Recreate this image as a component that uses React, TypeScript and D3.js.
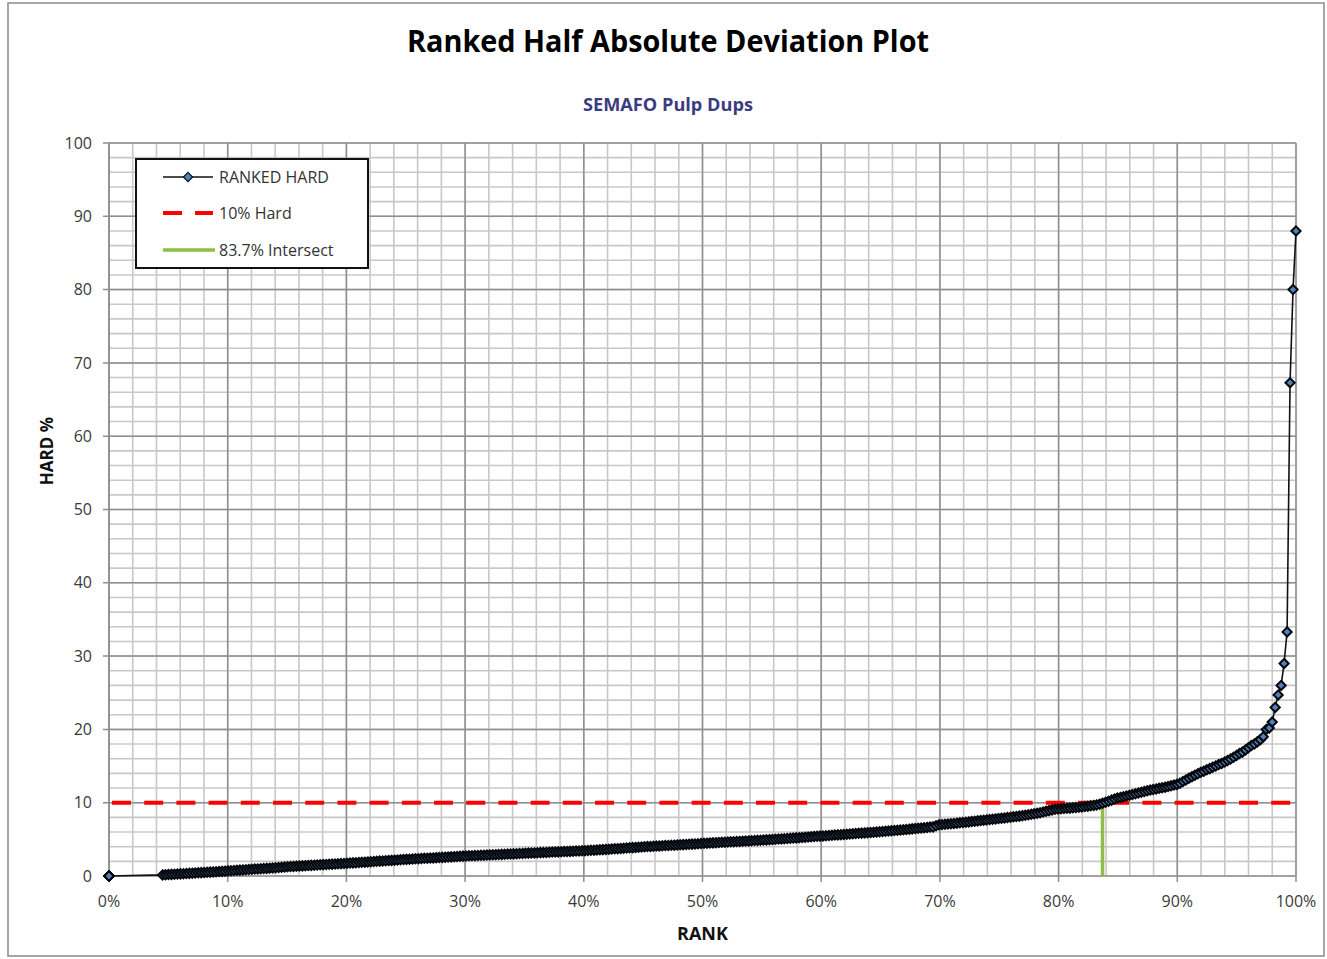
import React from 'react';
import * as d3 from 'd3';

const chartTitle = 'Ranked Half Absolute Deviation Plot';
const chartSubtitle = 'SEMAFO Pulp Dups';
const xTitle = 'RANK';
const yTitle = 'HARD %';
const legendLabels = ['RANKED HARD', '10% Hard', '83.7% Intersect'];

// number of pairs with zero half-absolute deviation (they all rank at 0%)
const zeroCount = 18;
// sorted non-zero HARD % values
const hardValues = [
  0.15, 0.17, 0.19, 0.22, 0.24, 0.27, 0.29, 0.31, 0.34, 0.36, 0.39, 0.41, 0.44, 0.46, 0.48, 0.51, 0.53, 0.56, 0.58, 0.61, 0.63, 0.66,
  0.7, 0.72, 0.75, 0.78, 0.8, 0.83, 0.86, 0.88, 0.91, 0.94, 0.96, 0.99, 1.02, 1.04, 1.07, 1.1, 1.13, 1.16, 1.19, 1.22,
  1.27, 1.29, 1.31, 1.34, 1.36, 1.38, 1.41, 1.43, 1.45, 1.48, 1.5, 1.52, 1.55, 1.57, 1.59, 1.62, 1.64, 1.66, 1.69, 1.71,
  1.74, 1.76, 1.79, 1.81, 1.84, 1.87, 1.89, 1.92, 1.95, 1.97, 2.0, 2.03, 2.05, 2.08, 2.1, 2.13, 2.16, 2.18, 2.21, 2.24,
  2.27, 2.29, 2.31, 2.34, 2.36, 2.38, 2.41, 2.43, 2.45, 2.47, 2.5, 2.52, 2.54, 2.57, 2.59, 2.61, 2.64, 2.66, 2.68, 2.71,
  2.73, 2.75, 2.77, 2.78, 2.8, 2.82, 2.84, 2.86, 2.88, 2.89, 2.91, 2.93, 2.95, 2.97, 2.99, 3.0, 3.02, 3.04, 3.06, 3.08,
  3.1, 3.12, 3.13, 3.15, 3.17, 3.19, 3.2, 3.22, 3.24, 3.26, 3.27, 3.29, 3.31, 3.33, 3.34, 3.36, 3.38, 3.4, 3.41, 3.43,
  3.45, 3.47, 3.5, 3.52, 3.55, 3.57, 3.6, 3.63, 3.65, 3.68, 3.71, 3.73, 3.76, 3.79, 3.81, 3.84, 3.87, 3.9, 3.93, 3.96,
  3.99, 4.01, 4.03, 4.06, 4.08, 4.1, 4.12, 4.15, 4.17, 4.19, 4.21, 4.24, 4.26, 4.28, 4.3, 4.33, 4.35, 4.37, 4.4, 4.43,
  4.46, 4.48, 4.5, 4.52, 4.55, 4.57, 4.59, 4.61, 4.64, 4.66, 4.68, 4.7, 4.72, 4.75, 4.77, 4.79, 4.81, 4.84, 4.86, 4.88,
  4.91, 4.93, 4.96, 4.98, 5.01, 5.04, 5.06, 5.09, 5.12, 5.15, 5.17, 5.2, 5.23, 5.26, 5.29, 5.32, 5.35, 5.38, 5.41, 5.44,
  5.46, 5.49, 5.52, 5.55, 5.58, 5.61, 5.64, 5.67, 5.7, 5.73, 5.76, 5.79, 5.82, 5.85, 5.88, 5.91, 5.94, 5.97, 6.0, 6.03,
  6.06, 6.09, 6.13, 6.16, 6.2, 6.24, 6.27, 6.31, 6.35, 6.39, 6.43, 6.47, 6.51, 6.55, 6.59, 6.63, 6.67, 6.7, 6.85, 6.98,
  7.02, 7.05, 7.09, 7.13, 7.17, 7.21, 7.25, 7.29, 7.34, 7.38, 7.43, 7.47, 7.52, 7.56, 7.61, 7.65, 7.7, 7.74, 7.79, 7.84,
  7.88, 7.92, 7.97, 8.02, 8.07, 8.12, 8.17, 8.23, 8.29, 8.35, 8.41, 8.48, 8.55, 8.63, 8.72, 8.82, 8.92, 9.02, 9.1, 9.14,
  9.17, 9.2, 9.23, 9.26, 9.3, 9.34, 9.38, 9.42, 9.47, 9.52, 9.57, 9.63, 9.7, 9.8, 9.92, 10.05, 10.2, 10.35, 10.5, 10.65,
  10.72, 10.82, 10.92, 11.02, 11.12, 11.22, 11.32, 11.42, 11.52, 11.62, 11.72, 11.8, 11.88, 11.96, 12.04, 12.12, 12.2, 12.3, 12.4, 12.5,
  12.65, 12.9, 13.1, 13.35, 13.55, 13.75, 13.95, 14.15, 14.3, 14.5, 14.65, 14.85, 15.0, 15.2, 15.35, 15.55, 15.75, 15.95, 16.2, 16.45,
  16.7, 16.9, 17.2, 17.5, 17.8, 18.0, 18.3, 18.6, 19.0, 20.0, 20.2, 21.0, 23.0, 24.7, 26.0, 29.0, 33.3, 67.3, 80.0, 88.0,
];
const hardLimit = 10;
const intersectRank = 0.837;

const W = 1327;
const H = 959;
const margin = { top: 143, right: 31, bottom: 83, left: 109 };

const FONT = '"Open Sans", "Noto Sans", sans-serif';
const BLUE = '#4f81bd';
const RED = '#ff0000';
const GREEN = '#8dbf45';

const diamond = 'M0,-4.6L4.6,0L0,4.6L-4.6,0Z';

export default function App() {
  const x = d3.scaleLinear().domain([0, 1]).range([margin.left, W - margin.right]);
  const y = d3.scaleLinear().domain([0, 100]).range([H - margin.bottom, margin.top]);

  // percent rank, ties at zero share the lowest rank
  const n = zeroCount + hardValues.length;
  const points = [
    ...d3.range(zeroCount).map(() => ({ rank: 0, v: 0 })),
    ...hardValues.map((v, i) => ({ rank: (zeroCount + i) / (n - 1), v })),
  ];

  const line = d3
    .line<any>()
    .x((d) => x(d.rank))
    .y((d) => y(d.v));

  const xMinor = x.ticks(50);
  const yMinor = y.ticks(50);
  const xMajor = x.ticks(10);
  const yMajor = y.ticks(10);
  const pct = d3.format('.0%');

  const [x0, x1] = x.range();
  const [y0, y1] = y.range();

  const lg = { x: 136, y: 159, w: 232, h: 109 };
  const lgRows = [177, 213, 250];

  return (
    <svg
      width={W}
      height={H}
      style={{ position: 'absolute', left: 0, top: 0, background: '#fff' }}
    >
      <rect x={0} y={0} width={W} height={H} fill="#fff" />
      <rect x={8} y={3} width={1316} height={953} fill="none" stroke="#8a8a8a" strokeWidth={1.5} />

      <text
        x={668}
        y={52}
        textAnchor="middle"
        fontFamily={FONT}
        fontWeight="bold"
        fontSize={30}
        textLength={522}
        lengthAdjust="spacingAndGlyphs"
        fill="#000"
      >
        {chartTitle}
      </text>
      <text
        x={668}
        y={111}
        textAnchor="middle"
        fontFamily={FONT}
        fontWeight="bold"
        fontSize={17}
        textLength={170}
        lengthAdjust="spacingAndGlyphs"
        fill="#3b3b82"
      >
        {chartSubtitle}
      </text>

      {/* grid */}
      <g>
        {xMinor.map((t) => (
          <line key={'xm' + t} x1={x(t)} x2={x(t)} y1={y1} y2={y0} stroke="#c8c8c8" strokeWidth={1.6} />
        ))}
        {yMinor.map((t) => (
          <line key={'ym' + t} x1={x0} x2={x1} y1={y(t)} y2={y(t)} stroke="#c8c8c8" strokeWidth={1.6} />
        ))}
        {xMajor.map((t) => (
          <line key={'xM' + t} x1={x(t)} x2={x(t)} y1={y1} y2={y0 + 6} stroke="#8f8f8f" strokeWidth={1.5} />
        ))}
        {yMajor.map((t) => (
          <line key={'yM' + t} x1={x0 - 6} x2={x1} y1={y(t)} y2={y(t)} stroke="#8f8f8f" strokeWidth={1.5} />
        ))}
        <line x1={x0} x2={x0} y1={y1} y2={y0} stroke="#8f8f8f" strokeWidth={1.5} />
      </g>

      {/* tick labels */}
      <g fontFamily={FONT} fontSize={16} fill="#3a3a3a">
        {yMajor.map((t) => (
          <text key={'yl' + t} x={x0 - 17} y={y(t)} dy="0.35em" textAnchor="end">
            {t}
          </text>
        ))}
        {xMajor.map((t) => (
          <text key={'xl' + t} x={x(t)} y={y0 + 31} textAnchor="middle">
            {pct(t)}
          </text>
        ))}
      </g>

      <text x={(x0 + x1) / 2} y={940} textAnchor="middle" fontFamily={FONT} fontWeight="bold" fontSize={18} fill="#111">
        {xTitle}
      </text>
      <text
        transform={`translate(53,451) rotate(-90)`}
        textAnchor="middle"
        fontFamily={FONT}
        fontWeight="bold"
        fontSize={17}
        fill="#111"
      >
        {yTitle}
      </text>

      {/* 10% hard line */}
      <line
        x1={x0 + 3}
        x2={x1}
        y1={y(hardLimit)}
        y2={y(hardLimit)}
        stroke={RED}
        strokeWidth={4}
        strokeDasharray="19,13.2"
      />

      {/* intersect */}
      <line x1={x(intersectRank)} x2={x(intersectRank)} y1={y(hardLimit)} y2={y0} stroke={GREEN} strokeWidth={3.5} />

      {/* ranked series */}
      <path d={line(points) || ''} fill="none" stroke="#111" strokeWidth={1.6} />
      <g>
        {points.map((d, i) => (
          <path
            key={'p' + i}
            d={diamond}
            transform={`translate(${x(d.rank)},${y(d.v)})`}
            fill={BLUE}
            stroke="#05070a"
            strokeWidth={2}
          />
        ))}
      </g>

      {/* legend */}
      <g>
        <rect x={lg.x} y={lg.y} width={lg.w} height={lg.h} fill="#fff" stroke="#111" strokeWidth={2} />
        <line x1={163} x2={213} y1={lgRows[0]} y2={lgRows[0]} stroke="#111" strokeWidth={1.6} />
        <path d={diamond} transform={`translate(188,${lgRows[0]})`} fill={BLUE} stroke="#0b0f16" strokeWidth={1.2} />
        <line x1={163} x2={213} y1={lgRows[1]} y2={lgRows[1]} stroke={RED} strokeWidth={4} strokeDasharray="19,13" />
        <line x1={163} x2={215} y1={lgRows[2]} y2={lgRows[2]} stroke={GREEN} strokeWidth={3.5} />
        {legendLabels.map((l, i) => (
          <text key={l} x={219} y={lgRows[i]} dy="0.35em" fontFamily={FONT} fontSize={16} fill="#333">
            {l}
          </text>
        ))}
      </g>
    </svg>
  );
}
